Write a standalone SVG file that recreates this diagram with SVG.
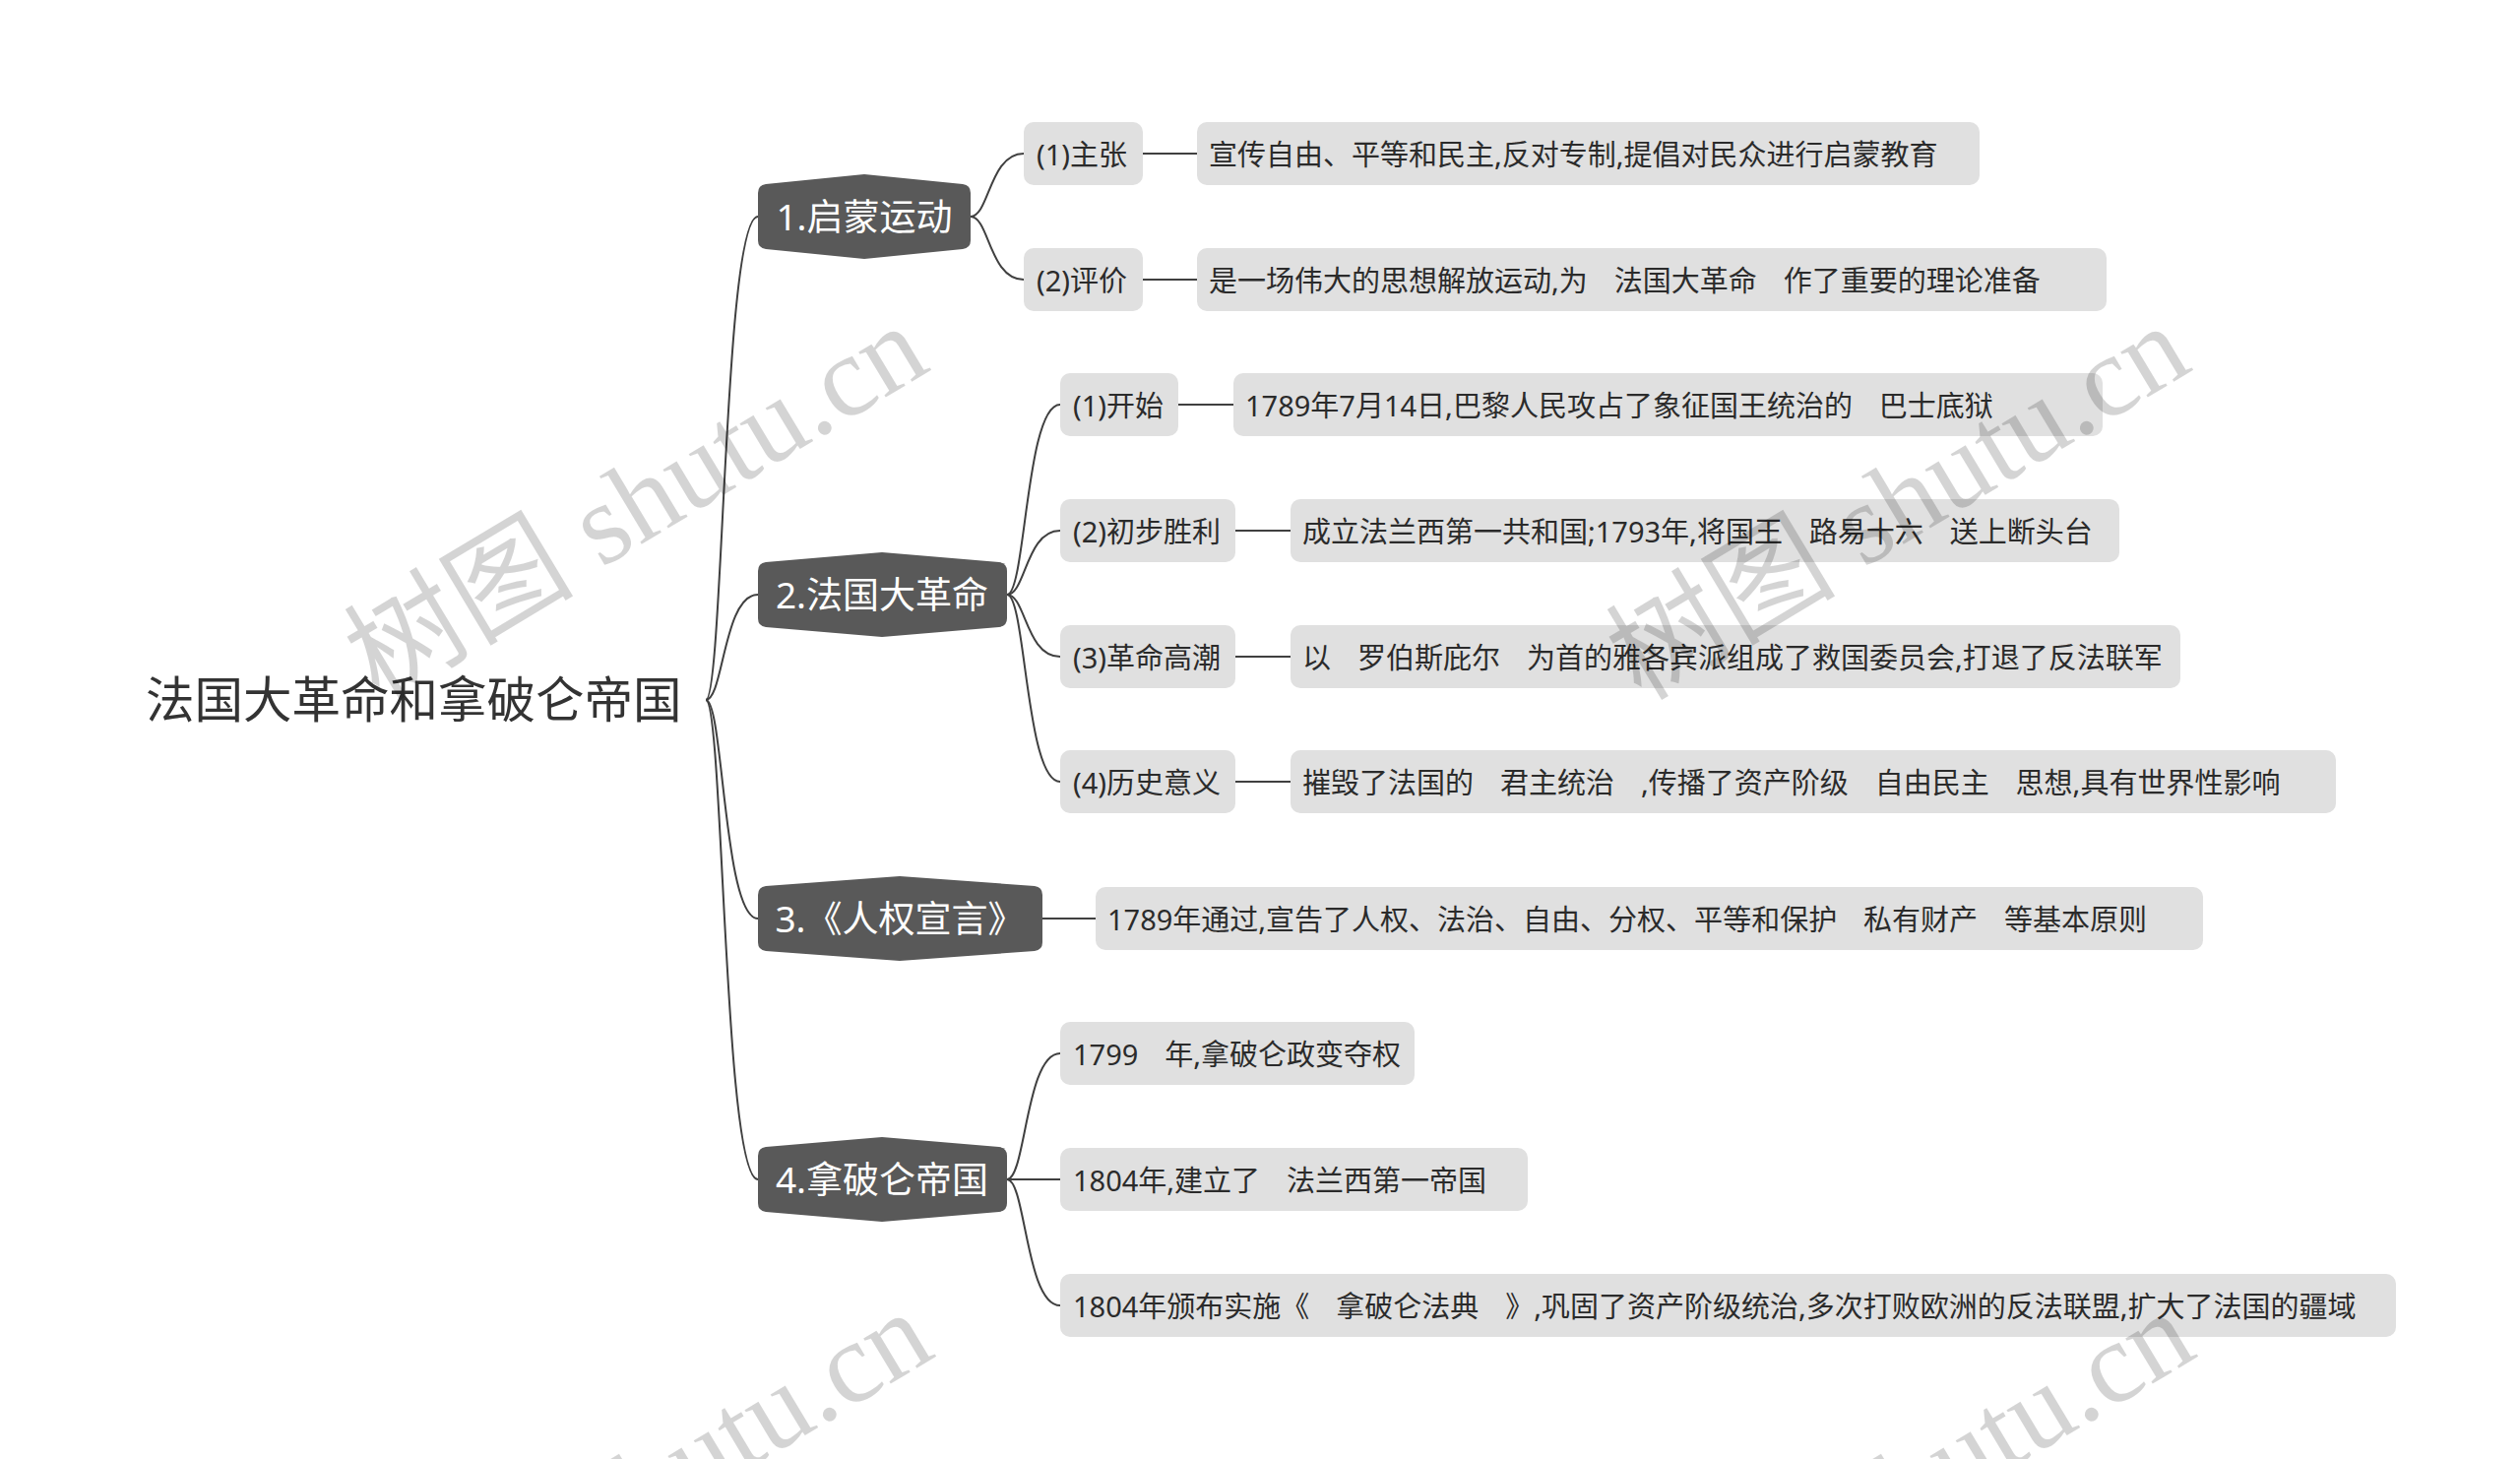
<svg xmlns="http://www.w3.org/2000/svg" width="2560" height="1482" viewBox="0 0 2560 1482">
<style>
.bg{fill:#ffffff}
.root{font-family:"Noto Sans","Noto Sans CJK SC",sans-serif;font-size:49.5px;fill:#333333}
.l1{fill:#595959}
.l1t{font-family:"Noto Sans","Noto Sans CJK SC",sans-serif;font-size:37px;fill:#ffffff;text-anchor:middle}
.l2{fill:#e0e0e0}
.l2t{font-family:"Noto Sans","Noto Sans CJK SC",sans-serif;font-size:29px;fill:#2b2b2b;white-space:pre;word-spacing:-0.8px}
.edge{fill:none;stroke:#404040;stroke-width:2}
.wm{font-family:"Liberation Serif","Noto Sans CJK SC",serif;font-size:117px;fill:#000000;fill-opacity:0.17;white-space:pre}
</style>
<rect class="bg" x="0" y="0" width="2560" height="1482"/>

<g id="connectors">
  <path class="edge" d="M717,711 C735,711 735,220 770,220"/>
  <path class="edge" d="M717,711 C735,711 735,604 770,604"/>
  <path class="edge" d="M717,711 C735,711 735,933 770,933"/>
  <path class="edge" d="M717,711 C735,711 735,1198 770,1198"/>
  <path class="edge" d="M986,220 C1005,220 1005,156 1040,156"/>
  <path class="edge" d="M986,220 C1005,220 1005,284 1040,284"/>
  <path class="edge" d="M1023,604 C1042,604 1042,411 1077,411"/>
  <path class="edge" d="M1023,604 C1042,604 1042,539 1077,539"/>
  <path class="edge" d="M1023,604 C1042,604 1042,667 1077,667"/>
  <path class="edge" d="M1023,604 C1042,604 1042,794 1077,794"/>
  <path class="edge" d="M1059,933 L1113,933"/>
  <path class="edge" d="M1023,1198 C1042,1198 1042,1070 1077,1070"/>
  <path class="edge" d="M1023,1198 L1077,1198"/>
  <path class="edge" d="M1023,1198 C1042,1198 1042,1326 1077,1326"/>
  <path class="edge" d="M1161,156 L1216,156"/>
  <path class="edge" d="M1161,284 L1216,284"/>
  <path class="edge" d="M1197,411 L1253,411"/>
  <path class="edge" d="M1255,539 L1311,539"/>
  <path class="edge" d="M1255,667 L1311,667"/>
  <path class="edge" d="M1255,794 L1311,794"/>
</g>

<g id="root">
  <text class="root" x="148" y="729">法国大革命和拿破仑帝国</text>
</g>

<g id="n1">
  <path class="l1" d="M770,196 Q770,188 778,187 L878,177 L978,187 Q986,188 986,196 L986,244 Q986,252 978,253 L878,263 L778,253 Q770,252 770,244 Z"/>
  <text class="l1t" x="878" y="234">1.启蒙运动</text>
</g>
<g id="n2">
  <path class="l1" d="M770,580 Q770,572 778,571 L896,561 L1015,571 Q1023,572 1023,580 L1023,628 Q1023,636 1015,637 L896,647 L778,637 Q770,636 770,628 Z"/>
  <text class="l1t" x="896" y="618">2.法国大革命</text>
</g>
<g id="n3">
  <path class="l1" d="M770,909 Q770,901 778,900 L914,890 L1051,900 Q1059,901 1059,909 L1059,957 Q1059,965 1051,966 L914,976 L778,966 Q770,965 770,957 Z"/>
  <text class="l1t" x="914" y="947">3.《人权宣言》</text>
</g>
<g id="n4">
  <path class="l1" d="M770,1174 Q770,1166 778,1165 L896,1155 L1015,1165 Q1023,1166 1023,1174 L1023,1222 Q1023,1230 1015,1231 L896,1241 L778,1231 Q770,1230 770,1222 Z"/>
  <text class="l1t" x="896" y="1212">4.拿破仑帝国</text>
</g>

<g id="a1">
  <rect class="l2" x="1040" y="124" width="121" height="64" rx="10"/>
  <text class="l2t" x="1053" y="168">(1)主张</text>
</g>
<g id="a1d">
  <rect class="l2" x="1216" y="124" width="795" height="64" rx="10"/>
  <text class="l2t" x="1228" y="168">宣传自由、平等和民主,反对专制,提倡对民众进行启蒙教育</text>
</g>
<g id="a2">
  <rect class="l2" x="1040" y="252" width="121" height="64" rx="10"/>
  <text class="l2t" x="1053" y="296">(2)评价</text>
</g>
<g id="a2d">
  <rect class="l2" x="1216" y="252" width="924" height="64" rx="10"/>
  <text class="l2t" x="1228" y="296">是一场伟大的思想解放运动,为    法国大革命    作了重要的理论准备</text>
</g>

<g id="b1">
  <rect class="l2" x="1077" y="379" width="120" height="64" rx="10"/>
  <text class="l2t" x="1090" y="423">(1)开始</text>
</g>
<g id="b1d">
  <rect class="l2" x="1253" y="379" width="883" height="64" rx="10"/>
  <text class="l2t" x="1265" y="423">1789年7月14日,巴黎人民攻占了象征国王统治的    巴士底狱</text>
</g>
<g id="b2">
  <rect class="l2" x="1077" y="507" width="178" height="64" rx="10"/>
  <text class="l2t" x="1090" y="551">(2)初步胜利</text>
</g>
<g id="b2d">
  <rect class="l2" x="1311" y="507" width="842" height="64" rx="10"/>
  <text class="l2t" x="1323" y="551">成立法兰西第一共和国;1793年,将国王    路易十六    送上断头台</text>
</g>
<g id="b3">
  <rect class="l2" x="1077" y="635" width="178" height="64" rx="10"/>
  <text class="l2t" x="1090" y="679">(3)革命高潮</text>
</g>
<g id="b3d">
  <rect class="l2" x="1311" y="635" width="904" height="64" rx="10"/>
  <text class="l2t" x="1323" y="679">以    罗伯斯庇尔    为首的雅各宾派组成了救国委员会,打退了反法联军</text>
</g>
<g id="b4">
  <rect class="l2" x="1077" y="762" width="178" height="64" rx="10"/>
  <text class="l2t" x="1090" y="806">(4)历史意义</text>
</g>
<g id="b4d">
  <rect class="l2" x="1311" y="762" width="1062" height="64" rx="10"/>
  <text class="l2t" x="1323" y="806">摧毁了法国的    君主统治    ,传播了资产阶级    自由民主    思想,具有世界性影响</text>
</g>

<g id="c1d">
  <rect class="l2" x="1113" y="901" width="1125" height="64" rx="10"/>
  <text class="l2t" x="1125" y="945">1789年通过,宣告了人权、法治、自由、分权、平等和保护    私有财产    等基本原则</text>
</g>

<g id="d1">
  <rect class="l2" x="1077" y="1038" width="360" height="64" rx="10"/>
  <text class="l2t" x="1090" y="1082">1799    年,拿破仑政变夺权</text>
</g>
<g id="d2">
  <rect class="l2" x="1077" y="1166" width="475" height="64" rx="10"/>
  <text class="l2t" x="1090" y="1210">1804年,建立了    法兰西第一帝国</text>
</g>
<g id="d3">
  <rect class="l2" x="1077" y="1294" width="1357" height="64" rx="10"/>
  <text class="l2t" x="1090" y="1338">1804年颁布实施《    拿破仑法典    》,巩固了资产阶级统治,多次打败欧洲的反法联盟,扩大了法国的疆域</text>
</g>

<g id="watermarks">
  <text class="wm" x="385" y="713" transform="rotate(-31 385 713)">树图 shutu.cn</text>
  <text class="wm" x="1667" y="713" transform="rotate(-31 1667 713)">树图 shutu.cn</text>
  <text class="wm" x="390" y="1715" transform="rotate(-31 390 1715)">树图 shutu.cn</text>
  <text class="wm" x="1672" y="1715" transform="rotate(-31 1672 1715)">树图 shutu.cn</text>
</g>
</svg>
